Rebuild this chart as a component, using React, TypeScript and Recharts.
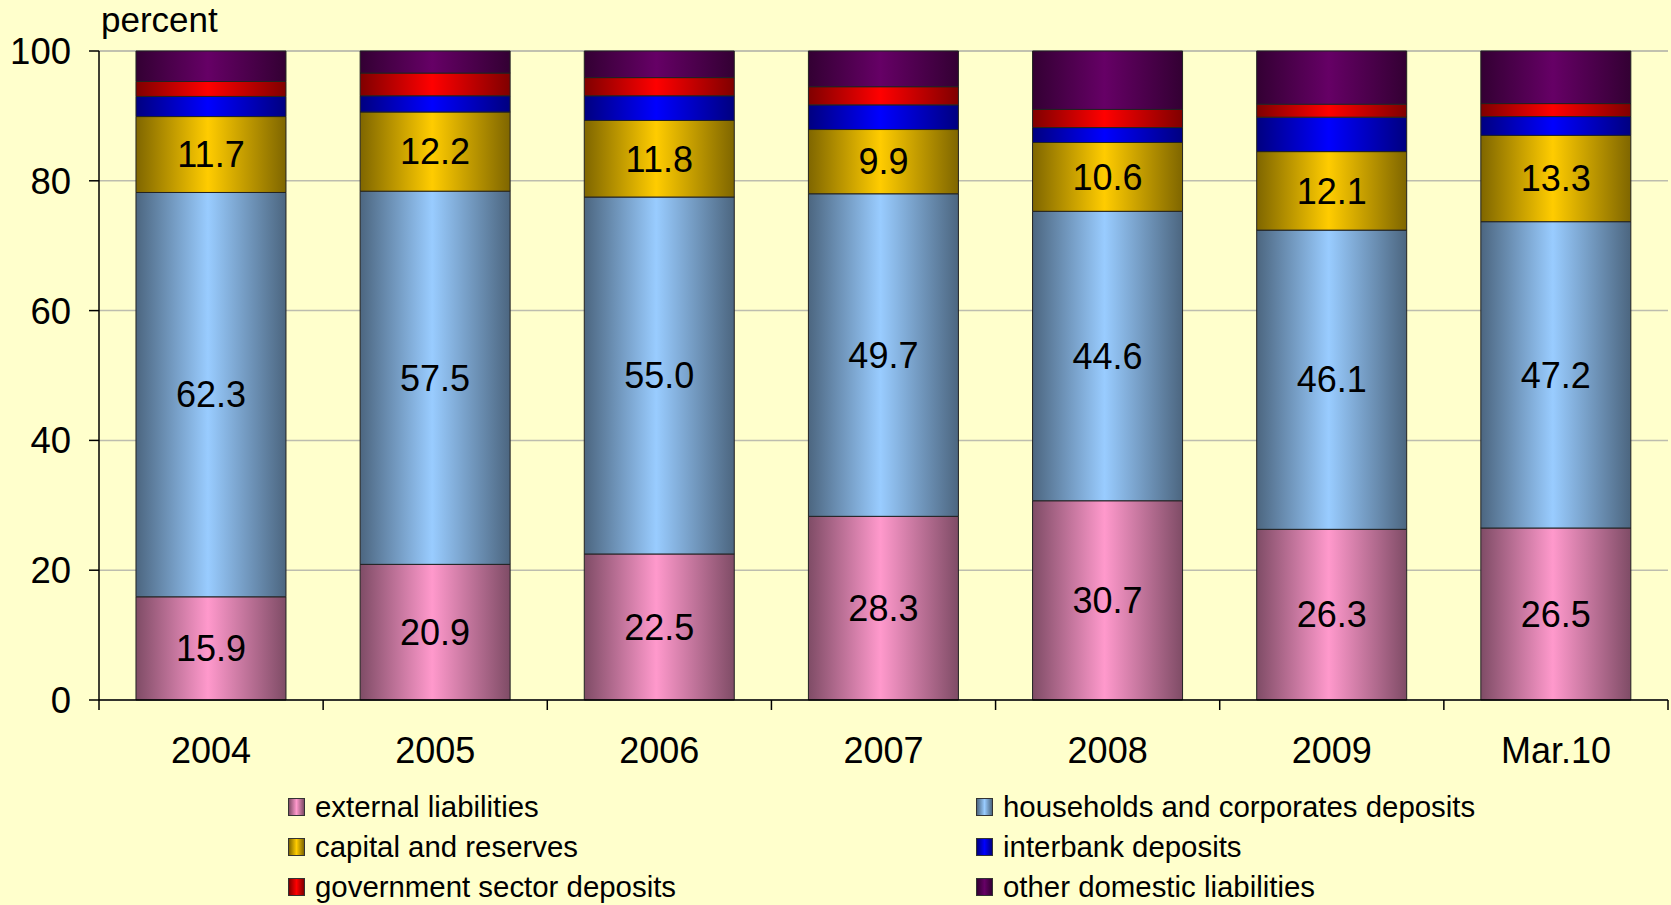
import { BarChart, Bar, XAxis, YAxis, CartesianGrid, Legend, LabelList } from 'recharts';

const categories = ['2004', '2005', '2006', '2007', '2008', '2009', 'Mar.10'];
const external = [15.9, 20.9, 22.5, 28.3, 30.7, 26.3, 26.5];
const households = [62.3, 57.5, 55.0, 49.7, 44.6, 46.1, 47.2];
const capital = [11.7, 12.2, 11.8, 9.9, 10.6, 12.1, 13.3];
const interbank = [3.1, 2.5, 3.8, 3.8, 2.3, 5.3, 2.9];
const government = [2.3, 3.5, 2.8, 2.8, 2.8, 2.0, 2.0];
const other = [4.7, 3.4, 4.1, 5.5, 9.0, 8.2, 8.1];
const yTicks = [0, 20, 40, 60, 80, 100];

const FONT = '"Liberation Sans", Arial, sans-serif';

// stacking order, bottom to top
const series = [
  { key: 'external', name: 'external liabilities', values: external, light: '#FF99CC', dark: '#7F4C66', labels: true },
  { key: 'households', name: 'households and corporates deposits', values: households, light: '#99CCFF', dark: '#4C6680', labels: true },
  { key: 'capital', name: 'capital and reserves', values: capital, light: '#FFCC00', dark: '#7F6600', labels: true },
  { key: 'interbank', name: 'interbank deposits', values: interbank, light: '#0000FF', dark: '#000080', labels: false },
  { key: 'government', name: 'government sector deposits', values: government, light: '#FF0000', dark: '#800000', labels: false },
  { key: 'other', name: 'other domestic liabilities', values: other, light: '#660066', dark: '#330033', labels: false },
];

// legend reads row by row, two columns
const legendOrder = ['external', 'households', 'capital', 'interbank', 'government', 'other'];

const data = categories.map((c, i) => {
  const row: Record<string, any> = { name: c };
  series.forEach((s) => { row[s.key] = s.values[i]; });
  return row;
});

const XTick = (props: any) => {
  const { x, y, payload, index } = props;
  const half = payload.offset ?? 0;
  return (
    <g>
      <line x1={x - half} x2={x - half} y1={y} y2={y + 10} stroke="#000" strokeWidth={1.5} />
      {index === categories.length - 1 && (
        <line x1={x + half} x2={x + half} y1={y} y2={y + 10} stroke="#000" strokeWidth={1.5} />
      )}
      <text x={x} y={y + 37} dy="0.71em" textAnchor="middle" fontSize={36} fill="#000" fontFamily={FONT}>
        {payload.value}
      </text>
    </g>
  );
};

const renderLegend = () => (
  <div style={{ position: 'relative', width: 1671, height: 120, fontFamily: FONT, fontSize: 29.4 }}>
    {legendOrder.map((k, i) => {
      const s = series.find((d) => d.key === k)!;
      return (
        <div
          key={k}
          style={{
            position: 'absolute',
            left: i % 2 === 0 ? 288 : 976,
            top: Math.floor(i / 2) * 40,
            height: 40,
            lineHeight: '40px',
            display: 'flex',
            alignItems: 'center',
            whiteSpace: 'nowrap',
            color: '#000',
          }}
        >
          <span
            style={{
              display: 'inline-block',
              width: 15,
              height: 16,
              border: '1px solid #333',
              background: `linear-gradient(to right, ${s.dark}, ${s.light} 50%, ${s.dark})`,
              marginRight: 10,
            }}
          />
          {s.name}
        </div>
      );
    })}
  </div>
);

const PercentLabel = (props: any) => {
  const vb = props.viewBox;
  return (
    <text x={vb.x + vb.width + 2} y={32} fontSize={35} fill="#000" fontFamily={FONT}>
      percent
    </text>
  );
};

export default function App() {
  return (
    <div style={{ position: 'absolute', left: 0, top: 0, width: 1671, height: 905, background: '#FFFFCC' }}>
      <BarChart
        width={1671}
        height={905}
        data={data}
        margin={{ top: 51, right: 3, left: 8, bottom: 145 }}
        barCategoryGap="16.5%"
        style={{ fontFamily: FONT }}
      >
        <defs>
          {series.map((s) => (
            <linearGradient key={s.key} id={`grad-${s.key}`} x1="0" y1="0" x2="1" y2="0">
              <stop offset="0%" stopColor={s.dark} />
              <stop offset="48%" stopColor={s.light} />
              <stop offset="100%" stopColor={s.dark} />
            </linearGradient>
          ))}
        </defs>
        <CartesianGrid vertical={false} stroke="#BDBDAE" strokeWidth={1.5} />
        <XAxis
          dataKey="name"
          axisLine={{ stroke: '#000', strokeWidth: 1.5 }}
          tickLine={false}
          tickSize={0}
          tickMargin={0}
          height={60}
          interval={0}
          tick={<XTick />}
        />
        <YAxis
          domain={[0, 100]}
          ticks={yTicks}
          width={91}
          axisLine={{ stroke: '#000', strokeWidth: 1.5 }}
          tickLine={{ stroke: '#000', strokeWidth: 1.5 }}
          tickSize={10}
          tickMargin={18}
          tick={{ fontSize: 36.5, fill: '#000', fontFamily: FONT }}
          label={<PercentLabel />}
        />
        {series.map((s) => (
          <Bar
            key={s.key}
            dataKey={s.key}
            name={s.name}
            stackId="a"
            fill={`url(#grad-${s.key})`}
            stroke="#222"
            strokeWidth={1}
            isAnimationActive={false}
          >
            {s.labels && (
              <LabelList
                dataKey={s.key}
                position="center"
                formatter={(v: any) => Number(v).toFixed(1)}
                style={{ fontSize: 36, fill: '#000', fontFamily: FONT }}
              />
            )}
          </Bar>
        ))}
        <Legend
          verticalAlign="middle"
          layout="horizontal"
          wrapperStyle={{ top: 787, left: 0, width: 1671 }}
          content={renderLegend}
        />
      </BarChart>
    </div>
  );
}
